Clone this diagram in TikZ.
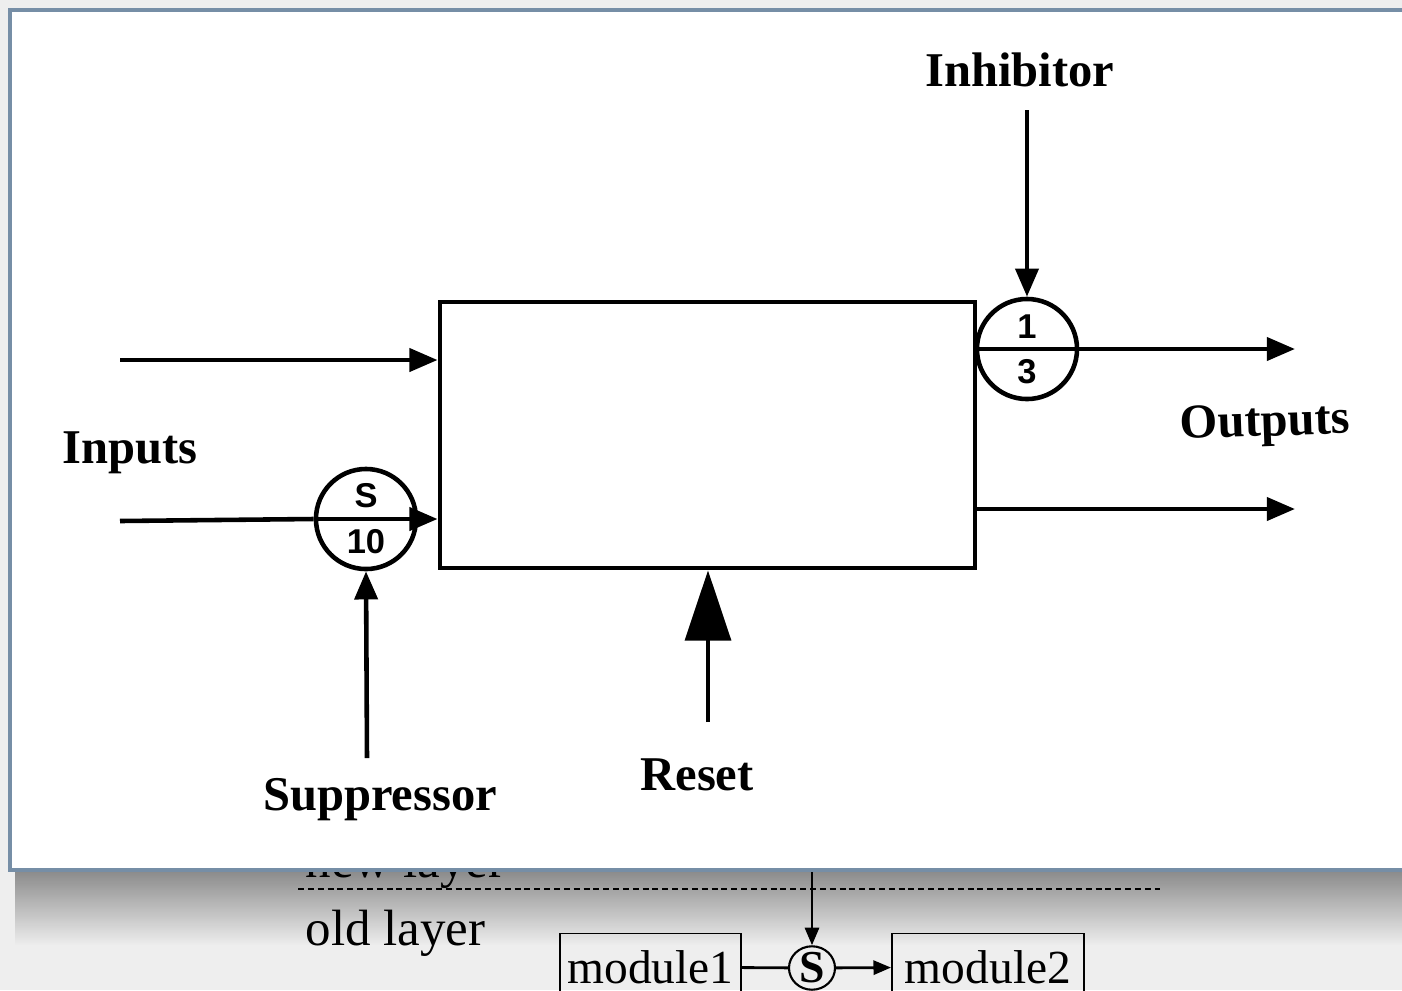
\documentclass[tikz,border=0pt]{standalone}
\usepackage{fontspec}
\setmainfont{Liberation Serif}
\newfontfamily\gatefont{Liberation Sans}
\usepackage{tikz}
\usetikzlibrary{arrows.meta, positioning, shapes.geometric, shapes.multipart, fadings}
\definecolor{panelEdge}{RGB}{118,142,166}
\definecolor{screenGray}{RGB}{238,238,238}

\begin{document}
\begin{tikzpicture}[x=0.01cm, y=-0.01cm,
  sig/.style={line width=1.3pt, -{Triangle[length=8pt,width=6.5pt]}},
  wire/.style={line width=1.3pt},
  tag/.style={font=\fontsize{13.8}{16}\selectfont\bfseries},
  gate/.style={circle split, draw, line width=1.3pt, minimum size=1cm, inner xsep=0.3pt, inner ysep=2.4pt,
    font=\gatefont\fontsize{9.8}{11}\selectfont\bfseries},
  layertxt/.style={font=\fontsize{14.5}{16}\selectfont, inner sep=0pt},
  modbox/.style={draw, line width=0.5pt, minimum height=0.67cm, inner sep=0pt,
    font=\fontsize{13.5}{16}\selectfont},
  smallsig/.style={line width=0.8pt, -{Triangle[length=5pt,width=4pt]}}]
  % Screen behind the window
  \fill[screenGray] (0,0) rectangle (1402,990);
  \useasboundingbox (0,0) rectangle (1402,990);

  % Old diagram under the window
  \node[layertxt, anchor=base west] (newl) at (305,877) {new layer};
  \coordinate (sepL) at (298,889);
  \coordinate (sepR) at (1160,889);
  \draw[dash pattern=on 1.7pt off 1.1pt, line width=0.5pt] (sepL) -- (sepR);
  \node[layertxt, anchor=base west] (oldl) at (305,945) {old layer};
  \node[modbox, minimum width=1.81cm] (mod1) at (650.5,967) {module1};
  \node[draw, ellipse, line width=0.6pt, minimum width=0.46cm, minimum height=0.36cm, inner sep=0pt,
    font=\bfseries\fontsize{13}{14}\selectfont] (sw) at (812,968) {S};
  \node[modbox, minimum width=1.92cm] (mod2) at (988,967) {module2};
  \coordinate (swsrc) at (812,860);
  \draw[smallsig] (swsrc) -- (sw);
  \draw[line width=0.8pt] (mod1) -- (sw);
  \draw[smallsig] (sw) -- (mod2);

  % Window shadow and frame
  \fill[black, opacity=0.42, path fading=south] (15,870) rectangle (1402,945);
  \draw[fill=white, draw=panelEdge, line width=0.9pt] (10,10) rectangle (1420,870);

  % Unit and gates
  \node[draw, line width=1.3pt, minimum width=5.35cm, minimum height=2.66cm] (unit) at (707.5,435) {};
  \node[gate] (supp) at (366,519) {S \nodepart{lower} 10};
  \node[gate] (inh) at (1027,349) {1 \nodepart{lower} 3};

  % Inputs
  \coordinate (in1) at (120,360);
  \coordinate (in2) at (120,521);
  \draw[sig] (in1) -- (in1 -| unit.west);
  \draw[wire] (in2) -- (supp.west);
  \draw[sig] (supp.east) -- (supp.east -| unit.west);
  \node[tag] (inlbl) at (130,453) {Inputs};

  % Outputs
  \coordinate (out1) at (1295,349);
  \coordinate (out2) at (1295,509);
  \draw[wire] (inh.west -| unit.east) -- (inh.west);
  \draw[sig] (inh.east) -- (out1);
  \draw[sig] (unit.east |- out2) -- (out2);
  \node[tag, rotate=2] (outlbl) at (1265,425) {Outputs};

  % Control lines
  \coordinate (inhsrc) at (1027,110);
  \draw[sig] (inhsrc) -- (inh.north);
  \node[tag] (inhlbl) at (1020,70) {Inhibitor};
  \coordinate (suppsrc) at (367,758);
  \draw[sig] (suppsrc) -- (supp.south);
  \node[tag] (supplbl) at (380,800) {Suppressor};
  \coordinate (rstsrc) at (708,722);
  \draw[line width=1.3pt, -{Triangle[length=20pt,width=13pt]}] (rstsrc) -- (rstsrc |- unit.south);
  \node[tag] (rstlbl) at (697,775) {Reset};
\end{tikzpicture}
\end{document}
